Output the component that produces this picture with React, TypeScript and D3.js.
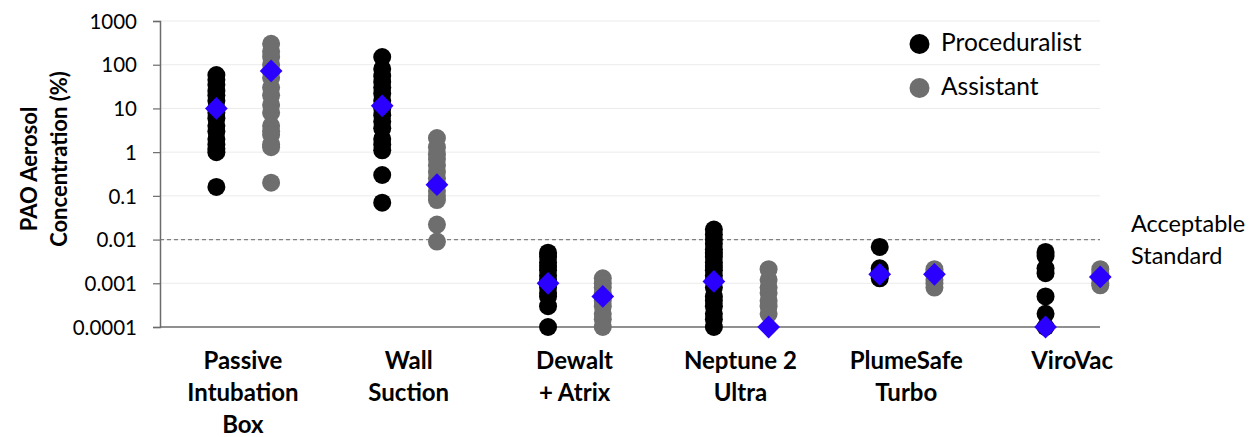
import React, { useEffect, useRef } from 'react';
import * as d3 from 'd3';

const categories = [
  ['Passive', 'Intubation', 'Box'],
  ['Wall', 'Suction'],
  ['Dewalt', '+ Atrix'],
  ['Neptune 2', 'Ultra'],
  ['PlumeSafe', 'Turbo'],
  ['ViroVac'],
];

const proceduralist = [
  [58, 45, 35, 25, 20, 15, 10, 8, 6, 4, 3, 2, 1.5, 1.2, 1.0, 0.16],
  [150, 80, 55, 40, 30, 22, 15, 10, 7, 5, 3.5, 2, 1.5, 1.1, 0.3, 0.07],
  [0.005, 0.004, 0.003, 0.0025, 0.002, 0.0015, 0.0012, 0.001, 0.0008, 0.0006, 0.0005, 0.0003, 0.0001],
  [0.017, 0.013, 0.01, 0.008, 0.006, 0.005, 0.004, 0.003, 0.0025, 0.002, 0.0015, 0.0012, 0.0008, 0.0005, 0.0004, 0.0003, 0.0002, 0.00015, 0.0001],
  [0.0068, 0.0022, 0.0018, 0.0015, 0.0013],
  [0.0052, 0.0042, 0.0022, 0.0017, 0.0005, 0.0002, 0.0001],
];

const assistant = [
  [300, 200, 150, 100, 70, 50, 30, 20, 12, 8, 4, 3, 2.5, 1.5, 1.3, 0.2],
  [2.1, 1.3, 0.9, 0.7, 0.5, 0.35, 0.25, 0.18, 0.13, 0.1, 0.08, 0.022, 0.009],
  [0.0013, 0.001, 0.0008, 0.0006, 0.0005, 0.0004, 0.0003, 0.0002, 0.00015, 0.0001],
  [0.0021, 0.0012, 0.0008, 0.0006, 0.0004, 0.0003, 0.0002],
  [0.0021, 0.0018, 0.0015, 0.0012, 0.001, 0.0008],
  [0.0021, 0.0017, 0.0013, 0.001, 0.0009],
];

const procMean = [10, 11.5, 0.001, 0.0011, 0.0016, 0.0001];
const asstMean = [72, 0.18, 0.0005, 0.0001, 0.0016, 0.0014];

const yTicks = [1000, 100, 10, 1, 0.1, 0.01, 0.001, 0.0001];
const tickLabels = ['1000', '100', '10', '1', '0.1', '0.01', '0.001', '0.0001'];
const standard = 0.01;

const W = 1254, H = 437;
const font = 'Lato, "Open Sans", sans-serif';

export default function App() {
  const ref = useRef<SVGSVGElement>(null);

  useEffect(() => {
    const svg = d3.select(ref.current);
    svg.selectAll('*').remove();

    const left = 160, right = 1100, top = 21, bottom = 327;
    const x = d3.scaleLinear().domain([0, 6]).range([left, 1155]);
    const y = d3.scaleLog().domain([0.0001, 1000]).range([bottom, top]);

    // gridlines
    svg.append('g').selectAll('line').data(yTicks.slice(0, -1)).enter().append('line')
      .attr('x1', left).attr('x2', right)
      .attr('y1', d => y(d)).attr('y2', d => y(d))
      .attr('stroke', '#ebebeb').attr('stroke-width', 1);

    // acceptable standard
    svg.append('line')
      .attr('x1', left).attr('x2', right)
      .attr('y1', y(standard)).attr('y2', y(standard))
      .attr('stroke', '#808080').attr('stroke-width', 1.2).attr('stroke-dasharray', '4,3');

    // axes
    const yAxis = d3.axisLeft(y).tickValues(yTicks).tickSize(7)
      .tickFormat((d, i) => tickLabels[i]);
    const ya = svg.append('g').attr('transform', `translate(${left},0)`).call(yAxis);
    ya.select('.domain').attr('stroke', '#6b6b6b').attr('stroke-width', 1.5);
    ya.selectAll('.tick line').attr('stroke', '#6b6b6b').attr('stroke-width', 1.2);
    ya.selectAll('.tick text').attr('font-family', font).attr('font-size', 20.5)
      .attr('fill', '#000').attr('x', -23).attr('dy', '0.35em');

    svg.append('line').attr('x1', left).attr('x2', right)
      .attr('y1', bottom).attr('y2', bottom)
      .attr('stroke', '#6b6b6b').attr('stroke-width', 1.5);

    // points
    const drawDots = (sets: number[][], off: number, color: string) => {
      sets.forEach((vals, i) => {
        svg.append('g').selectAll('circle').data(vals).enter().append('circle')
          .attr('cx', x(i + off)).attr('cy', d => y(d)).attr('r', 9)
          .attr('fill', color);
      });
    };
    drawDots(proceduralist, 0.34, '#000000');
    drawDots(assistant, 0.67, '#6e6e6e');

    const diamond = d3.symbol().type(d3.symbolDiamond2).size(330);
    const drawMeans = (vals: number[], off: number) => {
      svg.append('g').selectAll('path').data(vals).enter().append('path')
        .attr('d', diamond)
        .attr('transform', (d, i) => `translate(${x(i + off)},${y(d)})`)
        .attr('fill', '#2b00ff');
    };
    drawMeans(procMean, 0.34);
    drawMeans(asstMean, 0.67);

    // category labels
    categories.forEach((lines, i) => {
      const t = svg.append('text').attr('x', x(i + 0.5)).attr('y', 369)
        .attr('text-anchor', 'middle').attr('font-family', font)
        .attr('font-weight', 'bold').attr('font-size', 24).attr('fill', '#000');
      lines.forEach((l, j) => {
        t.append('tspan').attr('x', x(i + 0.5)).attr('dy', j === 0 ? 0 : 32).text(l);
      });
    });

    // y title
    svg.append('text').attr('transform', 'translate(37,169) rotate(-90)')
      .attr('text-anchor', 'middle').attr('font-family', font).attr('font-weight', 'bold')
      .attr('font-size', 22).text('PAO Aerosol');
    svg.append('text').attr('transform', 'translate(67,159) rotate(-90)')
      .attr('text-anchor', 'middle').attr('font-family', font).attr('font-weight', 'bold')
      .attr('font-size', 22).text('Concentration (%)');

    // legend
    const legend = [['Proceduralist', '#000000'], ['Assistant', '#6e6e6e']];
    legend.forEach(([label, color], i) => {
      svg.append('circle').attr('cx', 919.5).attr('cy', 44 + i * 44).attr('r', 10).attr('fill', color);
      svg.append('text').attr('x', 941).attr('y', 51 + i * 43.5)
        .attr('font-family', font).attr('font-size', 24.5).text(label);
    });

    // standard label
    svg.append('text').attr('x', 1131).attr('y', 232).attr('font-family', font)
      .attr('font-size', 23.5).text('Acceptable');
    svg.append('text').attr('x', 1131).attr('y', 263.5).attr('font-family', font)
      .attr('font-size', 23.5).text('Standard');
  }, []);

  return (
    <svg ref={ref} width={W} height={H}
      style={{ position: 'absolute', left: 0, top: 0, background: '#fff' }} />
  );
}
